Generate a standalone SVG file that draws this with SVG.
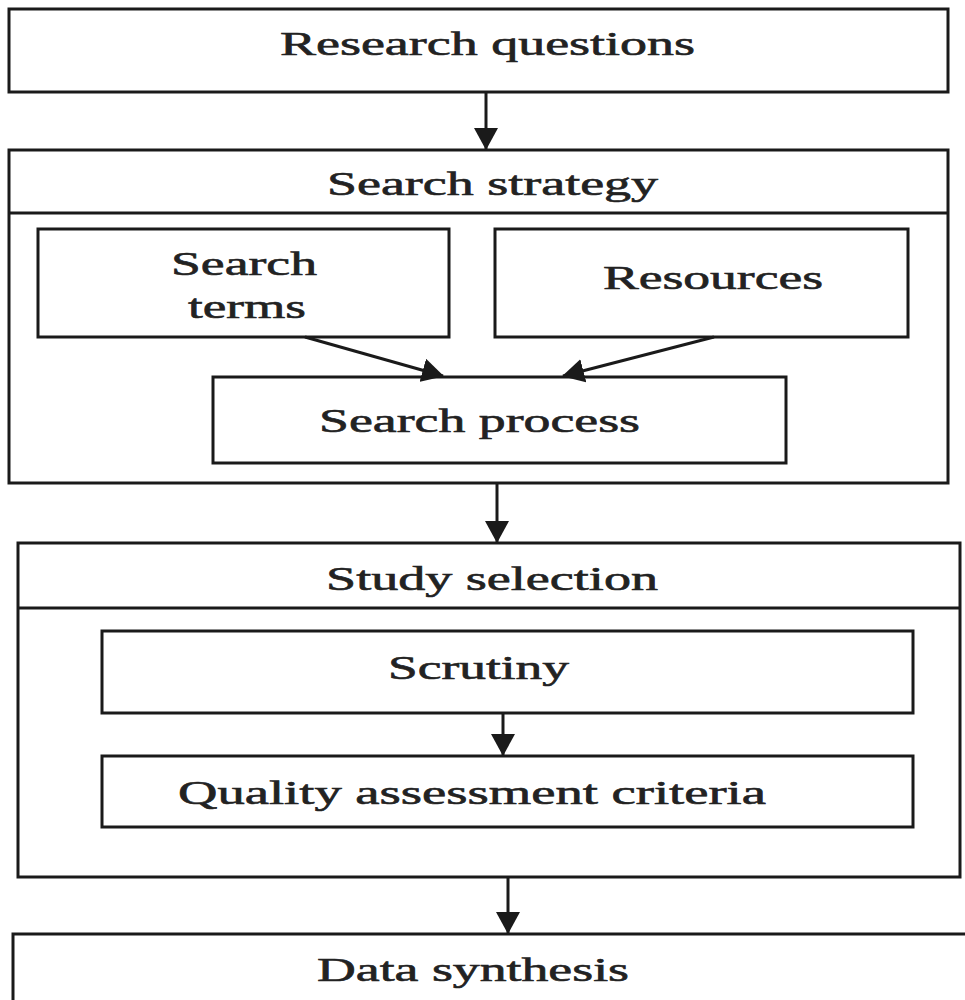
<svg xmlns="http://www.w3.org/2000/svg" width="965" height="1000" viewBox="0 0 965 1000">
<style>
.box{fill:#fff;stroke:#1a1a1a;stroke-width:3}
.line{stroke:#1a1a1a;stroke-width:3;fill:none}
.conn{stroke:#1a1a1a;stroke-width:3;fill:none;marker-end:url(#ah)}
text{font-family:"Liberation Serif","Times New Roman",serif;font-size:33px;fill:#222;stroke:#222;stroke-width:0.6;text-anchor:middle}
</style>
<defs>
<marker id="ah" viewBox="0 0 22 24" refX="21" refY="12" markerWidth="22" markerHeight="24" markerUnits="userSpaceOnUse" orient="auto">
<path d="M0,0 L22,12 L0,24 z" fill="#1a1a1a"/>
</marker>
</defs>
<rect width="965" height="1000" fill="#fff"/>
<g id="research-questions">
<rect class="box" x="9" y="9" width="939" height="83"/>
<text transform="translate(487.5,55) scale(1.69,1)" textLength="245.6" lengthAdjust="spacingAndGlyphs">Research questions</text>
</g>
<g id="search-strategy">
<rect class="box" x="9" y="150" width="939" height="333"/>
<line class="line" x1="9" y1="213" x2="948" y2="213"/>
<text transform="translate(492.5,195) scale(1.69,1)" textLength="195.9" lengthAdjust="spacingAndGlyphs">Search strategy</text>
</g>
<g id="search-terms">
<rect class="box" x="38" y="229" width="411" height="108"/>
<text transform="translate(244,275) scale(1.69,1)" textLength="86.4" lengthAdjust="spacingAndGlyphs">Search</text>
<text transform="translate(247,318) scale(1.69,1)" textLength="69.8" lengthAdjust="spacingAndGlyphs">terms</text>
</g>
<g id="resources">
<rect class="box" x="495" y="229" width="413" height="108"/>
<text transform="translate(713,289) scale(1.69,1)" textLength="130.2" lengthAdjust="spacingAndGlyphs">Resources</text>
</g>
<g id="search-process">
<rect class="box" x="213" y="377" width="573" height="86"/>
<text transform="translate(479.5,432) scale(1.69,1)" textLength="189.9" lengthAdjust="spacingAndGlyphs">Search process</text>
</g>
<g id="study-selection">
<rect class="box" x="18" y="543" width="942" height="334"/>
<line class="line" x1="18" y1="608" x2="960" y2="608"/>
<text transform="translate(492,590) scale(1.69,1)" textLength="196.4" lengthAdjust="spacingAndGlyphs">Study selection</text>
</g>
<g id="scrutiny">
<rect class="box" x="102" y="631" width="811" height="82"/>
<text transform="translate(478.5,679) scale(1.69,1)" textLength="107.1" lengthAdjust="spacingAndGlyphs">Scrutiny</text>
</g>
<g id="quality-assessment">
<rect class="box" x="102" y="756" width="811" height="71"/>
<text transform="translate(472,804) scale(1.69,1)" textLength="347.9" lengthAdjust="spacingAndGlyphs">Quality assessment criteria</text>
</g>
<g id="data-synthesis">
<rect class="box" x="13" y="934" width="970" height="80"/>
<text transform="translate(473,981) scale(1.69,1)" textLength="184.6" lengthAdjust="spacingAndGlyphs">Data synthesis</text>
</g>
<g id="connectors">
<line class="conn" x1="486" y1="92" x2="486" y2="149"/>
<line class="conn" x1="305" y1="337" x2="443" y2="376"/>
<line class="conn" x1="714" y1="337" x2="563" y2="376"/>
<line class="conn" x1="497" y1="483" x2="497" y2="542"/>
<line class="conn" x1="503" y1="713" x2="503" y2="755"/>
<line class="conn" x1="508" y1="877" x2="508" y2="933"/>
</g>
</svg>
